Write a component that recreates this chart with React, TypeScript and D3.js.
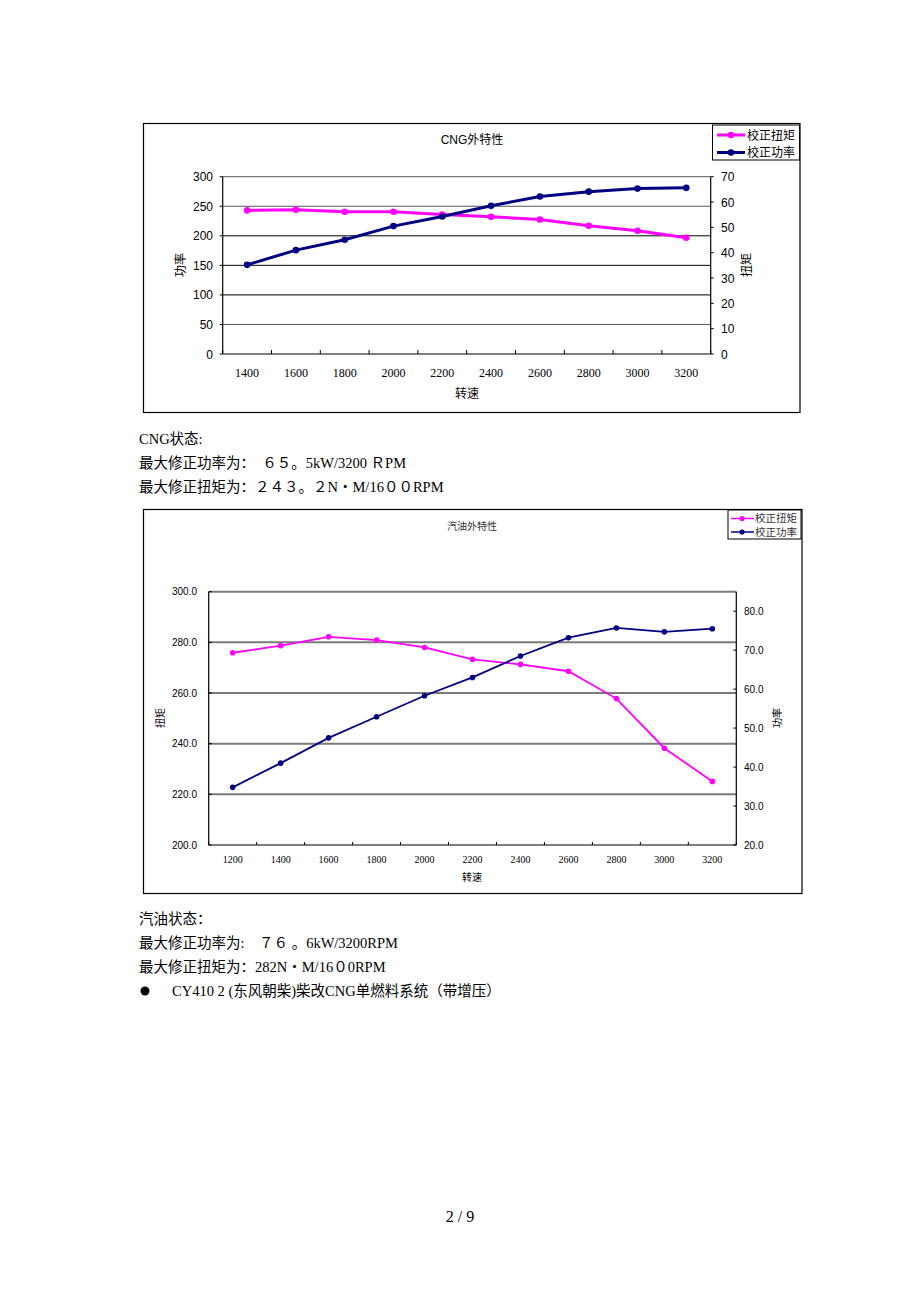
import React from "react";
import * as d3 from "d3";

// ---------- Chart 1 (CNG) ----------
const cngSpeeds = ["1400", "1600", "1800", "2000", "2200", "2400", "2600", "2800", "3000", "3200"];
const cngTorque = [243, 244, 240.7, 240.7, 236, 232.2, 227.6, 217, 208.5, 196.6];
const cngPower = [35.2, 41.0, 45.1, 50.5, 54.3, 58.5, 62.2, 64.1, 65.3, 65.6];
const cngLeftTicks = [0, 50, 100, 150, 200, 250, 300];
const cngRightTicks = [0, 10, 20, 30, 40, 50, 60, 70];

// ---------- Chart 2 (Gasoline) ----------
const gasSpeeds = ["1200", "1400", "1600", "1800", "2000", "2200", "2400", "2600", "2800", "3000", "3200"];
const gasTorque = [275.9, 278.7, 282.2, 280.9, 278.0, 273.3, 271.3, 268.6, 257.8, 238.2, 225.1];
const gasPower = [34.8, 41.0, 47.5, 52.9, 58.3, 63.0, 68.5, 73.2, 75.7, 74.7, 75.5];
const gasLeftTicks = [200, 220, 240, 260, 280, 300];
const gasRightTicks = [20, 30, 40, 50, 60, 70, 80];

const legendNames = ["校正扭矩", "校正功率"];
const PINK = "#FF00FF";
const NAVY = "#000080";

const SANS = "'Liberation Sans', Arial, 'Noto Sans CJK SC', sans-serif";
const SERIF = "'Liberation Serif', 'Times New Roman', 'Noto Sans CJK SC', serif";

function Chart1() {
  const L = 222.7, R = 710.7, T = 176.7, B = 354;
  const x = d3.scaleBand().domain(cngSpeeds).range([L, R]);
  const yL = d3.scaleLinear().domain([0, 300]).range([B, T]);
  const yR = d3.scaleLinear().domain([0, 70]).range([B, T]);
  const cx = (s: string) => (x(s) as number) + x.bandwidth() / 2;
  const torqueLine = d3.line<number>().x((_, i) => cx(cngSpeeds[i])).y((d) => yL(d));
  const powerLine = d3.line<number>().x((_, i) => cx(cngSpeeds[i])).y((d) => yR(d));
  const bounds = [...cngSpeeds.map((s) => x(s) as number), R];
  return (
    <g>
      <rect x={143.5} y={123.5} width={656.5} height={289} fill="#fff" stroke="#000" strokeWidth={1.2} />
      <text x={472} y={144} fontFamily={SANS} fontSize={12} textAnchor="middle" fill="#000">CNG外特性</text>
      {cngLeftTicks.filter((t) => t > 0).map((t) => (
        <line key={t} x1={L} x2={R} y1={yL(t)} y2={yL(t)} stroke={t === 300 || t === 250 || t === 50 ? "#555" : "#000"} strokeWidth={1} />
      ))}
      <line x1={L} x2={L} y1={T} y2={B} stroke="#000" strokeWidth={1.2} />
      <line x1={R} x2={R} y1={T} y2={B} stroke="#000" strokeWidth={1.2} />
      <line x1={L} x2={R} y1={B} y2={B} stroke="#000" strokeWidth={1.2} />
      {bounds.map((b, i) => (
        <line key={i} x1={b} x2={b} y1={B} y2={B - 4} stroke="#000" strokeWidth={1} />
      ))}
      {cngLeftTicks.map((t) => (
        <g key={t}>
          <line x1={L - 3} x2={L} y1={yL(t)} y2={yL(t)} stroke="#000" />
          <text x={213} y={yL(t) + 4.5} fontFamily={SANS} fontSize={12} textAnchor="end" fill="#000">{t}</text>
        </g>
      ))}
      {cngRightTicks.map((t) => (
        <g key={t}>
          <line x1={R} x2={R + 3} y1={yR(t)} y2={yR(t)} stroke="#000" />
          <text x={721} y={yR(t) + 4.5} fontFamily={SANS} fontSize={12} textAnchor="start" fill="#000">{t}</text>
        </g>
      ))}
      {cngSpeeds.map((s) => (
        <text key={s} x={cx(s)} y={377} fontFamily={SERIF} fontSize={12} textAnchor="middle" fill="#000">{s}</text>
      ))}
      <text x={467} y={398} fontFamily={SERIF} fontSize={12} textAnchor="middle" fill="#000">转速</text>
      <text transform={`translate(${185},${265}) rotate(-90)`} fontFamily={SANS} fontSize={12} textAnchor="middle" fill="#000">功率</text>
      <text transform={`translate(${751},${265}) rotate(-90)`} fontFamily={SANS} fontSize={12} textAnchor="middle" fill="#000">扭矩</text>
      <path d={torqueLine(cngTorque) || ""} fill="none" stroke={PINK} strokeWidth={3} />
      {cngTorque.map((d, i) => (
        <circle key={i} cx={cx(cngSpeeds[i])} cy={yL(d)} r={3.3} fill={PINK} />
      ))}
      <path d={powerLine(cngPower) || ""} fill="none" stroke={NAVY} strokeWidth={3} />
      {cngPower.map((d, i) => (
        <circle key={i} cx={cx(cngSpeeds[i])} cy={yR(d)} r={3.3} fill={NAVY} />
      ))}
      {/* legend */}
      <rect x={712.5} y={125} width={87} height={35} fill="#fff" stroke="#000" strokeWidth={1} />
      {legendNames.map((n, i) => {
        const yy = 135 + i * 17.5;
        const c = i === 0 ? PINK : NAVY;
        return (
          <g key={n}>
            <line x1={717} x2={745} y1={yy} y2={yy} stroke={c} strokeWidth={3} />
            <circle cx={731} cy={yy} r={3.3} fill={c} />
            <text x={747} y={yy + 4.5} fontFamily={SANS} fontSize={12} fill="#000">{n}</text>
          </g>
        );
      })}
    </g>
  );
}

function Chart2() {
  const L = 208.7, R = 736.3, T = 591.7, B = 845;
  const x = d3.scaleBand().domain(gasSpeeds).range([L, R]);
  const yL = d3.scaleLinear().domain([200, 300]).range([B, T]);
  const yR = d3.scaleLinear().domain([20, 85]).range([B, T]);
  const cx = (s: string) => (x(s) as number) + x.bandwidth() / 2;
  const torqueLine = d3.line<number>().x((_, i) => cx(gasSpeeds[i])).y((d) => yL(d));
  const powerLine = d3.line<number>().x((_, i) => cx(gasSpeeds[i])).y((d) => yR(d));
  const bounds = [...gasSpeeds.map((s) => x(s) as number), R];
  return (
    <g>
      <rect x={143.5} y={509.5} width={658.5} height={384} fill="#fff" stroke="#000" strokeWidth={1.2} />
      <text x={472} y={530} fontFamily={SERIF} fontSize={10} textAnchor="middle" fill="#333">汽油外特性</text>
      {gasLeftTicks.filter((t) => t > 200).map((t) => (
        <line key={t} x1={L} x2={R} y1={yL(t)} y2={yL(t)} stroke="#7a7a7a" strokeWidth={2} />
      ))}
      <line x1={L} x2={L} y1={T} y2={B} stroke="#000" strokeWidth={1.2} />
      <line x1={R} x2={R} y1={T} y2={B} stroke="#000" strokeWidth={1.2} />
      <line x1={L} x2={R} y1={B} y2={B} stroke="#000" strokeWidth={1.2} />
      {bounds.map((b, i) => (
        <line key={i} x1={b} x2={b} y1={B} y2={B - 3} stroke="#000" strokeWidth={1} />
      ))}
      {gasLeftTicks.map((t) => (
        <g key={t}>
          <line x1={L} x2={L + 3} y1={yL(t)} y2={yL(t)} stroke="#000" />
          <text x={197} y={yL(t) + 3.5} fontFamily={SANS} fontSize={10} textAnchor="end" fill="#000">{t.toFixed(1)}</text>
        </g>
      ))}
      {gasRightTicks.map((t) => (
        <g key={t}>
          <line x1={R - 3} x2={R} y1={yR(t)} y2={yR(t)} stroke="#000" />
          <text x={744} y={yR(t) + 3.5} fontFamily={SANS} fontSize={10} textAnchor="start" fill="#000">{t.toFixed(1)}</text>
        </g>
      ))}
      {gasSpeeds.map((s) => (
        <text key={s} x={cx(s)} y={863} fontFamily={SERIF} fontSize={10} textAnchor="middle" fill="#000">{s}</text>
      ))}
      <text x={472} y={881} fontFamily={SERIF} fontSize={10} textAnchor="middle" fill="#000">转速</text>
      <text transform={`translate(${164},${718}) rotate(-90)`} fontFamily={SERIF} fontSize={10} textAnchor="middle" fill="#000">扭矩</text>
      <text transform={`translate(${781},${718}) rotate(-90)`} fontFamily={SERIF} fontSize={10} textAnchor="middle" fill="#000">功率</text>
      <path d={torqueLine(gasTorque) || ""} fill="none" stroke={PINK} strokeWidth={1.8} />
      {gasTorque.map((d, i) => (
        <circle key={i} cx={cx(gasSpeeds[i])} cy={yL(d)} r={2.8} fill={PINK} />
      ))}
      <path d={powerLine(gasPower) || ""} fill="none" stroke={NAVY} strokeWidth={1.8} />
      {gasPower.map((d, i) => (
        <circle key={i} cx={cx(gasSpeeds[i])} cy={yR(d)} r={2.8} fill={NAVY} />
      ))}
      {/* legend */}
      <rect x={728} y={510} width={73} height={29} fill="#fff" stroke="#000" strokeWidth={1} />
      {legendNames.map((n, i) => {
        const yy = 518.5 + i * 13.5;
        const c = i === 0 ? PINK : NAVY;
        return (
          <g key={n}>
            <line x1={731} x2={754} y1={yy} y2={yy} stroke={c} strokeWidth={1.5} />
            <circle cx={742} cy={yy} r={2.6} fill={c} />
            <text x={755} y={yy + 3.8} fontFamily={SERIF} fontSize={10.5} fill="#333">{n}</text>
          </g>
        );
      })}
    </g>
  );
}

const bodyLines1 = ["CNG状态:", "最大修正功率为：　６５。5kW/3200 ＲPM", "最大修正扭矩为：２４３。２N・M/16００RPM"];
const bodyLines2 = ["汽油状态：", "最大修正功率为:　７６ 。6kW/3200RPM", "最大修正扭矩为：282N・M/16０0RPM"];
const bulletLine = "CY410 2 (东风朝柴)柴改CNG单燃料系统（带增压）";
const pageLabel = "2 / 9";

export default function App() {
  const BODY = "'Liberation Serif', 'Times New Roman', 'Noto Sans CJK SC', serif";
  return (
    <div style={{ position: "absolute", left: 0, top: 0 }}>
      <svg width={920} height={1302} viewBox="0 0 920 1302" style={{ display: "block", background: "#fff" }}>
        <rect x={0} y={0} width={920} height={1302} fill="#fff" />
        <Chart1 />
        {bodyLines1.map((t, i) => (
          <text key={i} x={139} y={444 + i * 23.8} fontFamily={BODY} fontSize={14.5} fill="#000">{t}</text>
        ))}
        <Chart2 />
        {bodyLines2.map((t, i) => (
          <text key={i} x={139} y={924 + i * 24} fontFamily={BODY} fontSize={14.5} fill="#000">{t}</text>
        ))}
        <circle cx={145} cy={991} r={4.5} fill="#000" />
        <text x={172} y={996} fontFamily={BODY} fontSize={14.5} fill="#000">{bulletLine}</text>
        <text x={460} y={1222} fontFamily={BODY} fontSize={16} textAnchor="middle" fill="#000">{pageLabel}</text>
      </svg>
    </div>
  );
}
